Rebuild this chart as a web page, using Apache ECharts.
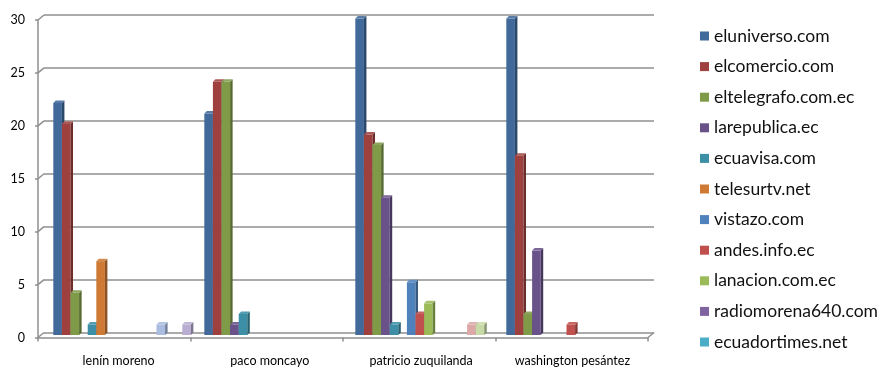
<!DOCTYPE html>
<html>
<head>
<meta charset="utf-8">
<script src="https://cdn.jsdelivr.net/npm/echarts@6/dist/echarts.min.js"></script>
<style>html,body{margin:0;padding:0;background:#fff}#c{width:895px;height:376px}</style>
</head>
<body>
<div id="c"></div>
<script>
// ---- data ----
const categories = ['lenín moreno', 'paco moncayo', 'patricio zuquilanda', 'washington pesántez'];
const yTicks = [0, 5, 10, 15, 20, 25, 30];
const eluniverso   = [22, 21, 30, 30];
const elcomercio   = [20, 24, 19, 17];
const eltelegrafo  = [4, 24, 18, 2];
const larepublica  = [0, 1, 13, 8];
const ecuavisa     = [1, 2, 1, 0];
const telesurtv    = [7, 0, 0, 0];
const vistazo      = [0, 0, 5, 0];
const andes        = [0, 0, 2, 1];
const lanacion     = [0, 0, 3, 0];
const radiomorena  = [0, 0, 0, 0];
const ecuadortimes = [0, 0, 0, 0];
const serie12      = [0, 0, 0, 0];
const serie13      = [1, 0, 0, 0];
const serie14      = [0, 0, 1, 0];
const serie15      = [0, 0, 1, 0];
const serie16      = [1, 0, 0, 0];

const seriesDefs = [
  ['eluniverso.com', eluniverso, '#416A9B'],
  ['elcomercio.com', elcomercio, '#9E413E'],
  ['eltelegrafo.com.ec', eltelegrafo, '#7F9B48'],
  ['larepublica.ec', larepublica, '#69518A'],
  ['ecuavisa.com', ecuavisa, '#3C8FA6'],
  ['telesurtv.net', telesurtv, '#CE7A35'],
  ['vistazo.com', vistazo, '#4F81BD'],
  ['andes.info.ec', andes, '#C0504D'],
  ['lanacion.com.ec', lanacion, '#9BBB59'],
  ['radiomorena640.com', radiomorena, '#8064A2'],
  ['ecuadortimes.net', ecuadortimes, '#4BACC6'],
  ['serie 12', serie12, '#F79646'],
  ['serie 13', serie13, '#AABCDF'],
  ['serie 14', serie14, '#DCA9A8'],
  ['serie 15', serie15, '#C8DBA6'],
  ['serie 16', serie16, '#B9AED1']
];
const legendNames = seriesDefs.slice(0, 11).map(d => d[0]);

// ---- styling helpers ----
const N = seriesDefs.length;
const GAP = 0.089;
const D = 2.5;
const DX = 6, DY = 5;
const lineCol = '#8f8f8f';
const font = 'Lato, "Open Sans", sans-serif';

function shade(hex, f) {
  const n = parseInt(hex.slice(1), 16);
  let r = (n >> 16) & 255, g = (n >> 8) & 255, b = n & 255;
  const m = c => Math.max(0, Math.min(255, Math.round(f < 1 ? c * f : c + (255 - c) * (f - 1))));
  return 'rgb(' + m(r) + ',' + m(g) + ',' + m(b) + ')';
}

function barRender(idx, color) {
  const side = shade(color, 0.68);
  const topc = shade(color, 1.12);
  return function (params, api) {
    const cat = api.value(0), v = api.value(1);
    if (!v) return;
    const top = api.coord([cat, v]);
    const base = api.coord([cat, 0]);
    const band = api.size([1, 0])[0];
    const gap = band * GAP;
    const bw = (band - gap) / N;
    const x = top[0] - band / 2 + gap / 2 + idx * bw;
    const y = top[1], yb = base[1];
    return {
      type: 'group',
      children: [
        { type: 'rect', shape: { x: x, y: y, width: bw, height: yb - y }, style: { fill: color } },
        { type: 'polygon', shape: { points: [[x + bw, y], [x + bw + D, y - D], [x + bw + D, yb - D], [x + bw, yb]] }, style: { fill: side } },
        { type: 'polygon', shape: { points: [[x, y], [x + D, y - D], [x + bw + D, y - D], [x + bw, y]] }, style: { fill: topc } }
      ]
    };
  };
}

const series = seriesDefs.map((d, i) => ({
  name: d[0],
  type: 'custom',
  xAxisIndex: 1,
  yAxisIndex: 1,
  itemStyle: { color: d[2] },
  renderItem: barRender(i, d[2]),
  data: d[1].map((v, c) => [c, v]),
  z: 5
}));

// wall slants (front axis to back wall)
series.push({
  name: 'frame',
  type: 'custom',
  xAxisIndex: 0,
  yAxisIndex: 0,
  silent: true,
  renderItem: function (params, api) {
    const v = api.value(0);
    const p = api.coord([0, v]);
    const band = api.size([1, 0])[0];
    const xl = p[0] - band / 2;
    const children = [
      { type: 'line', shape: { x1: xl, y1: p[1], x2: xl + DX, y2: p[1] - DY }, style: { stroke: lineCol, lineWidth: 1.5 } }
    ];
    if (v === 0) {
      const xr = api.coord([categories.length - 1, 0])[0] + band / 2;
      children.push({ type: 'line', shape: { x1: xr, y1: p[1], x2: xr + DX, y2: p[1] - DY }, style: { stroke: lineCol, lineWidth: 1.5 } });
    }
    return { type: 'group', children: children };
  },
  data: yTicks.map(v => [v]),
  encode: { y: 0 },
  z: 2
});

const option = {
  animation: false,
  backgroundColor: '#fff',
  legend: {
    data: legendNames,
    orient: 'vertical',
    left: 695,
    top: 22,
    padding: 5,
    itemGap: 12.6,
    itemWidth: 9,
    itemHeight: 9,
    icon: 'rect',
    textStyle: { fontSize: 17.5, lineHeight: 16, color: '#111', fontFamily: font },
    selectedMode: false
  },
  grid: [
    // front plane (axes)
    { left: 38, right: 247, top: 20, bottom: 38.5 },
    // bar plane (mid-depth)
    { left: 46.6, right: 244.4, top: 18.5, bottom: 41 },
    // back wall
    { left: 44, right: 241, top: 15, bottom: 43.5 },
    // label placement
    { left: 43, right: 247, top: 20, bottom: 38.5 }
  ],
  xAxis: [
    { gridIndex: 0, type: 'category', data: categories, boundaryGap: true,
      axisLine: { show: true, lineStyle: { color: lineCol, width: 1.5 } },
      axisTick: { show: true, length: 4, lineStyle: { color: lineCol, width: 1.5 } },
      axisLabel: { show: false }, splitLine: { show: false } },
    { gridIndex: 1, type: 'category', data: categories, show: false },
    { gridIndex: 2, type: 'category', data: categories, show: false },
    { gridIndex: 3, type: 'category', data: categories,
      axisLine: { show: false }, axisTick: { show: false },
      axisLabel: { show: true, margin: 16.5, fontSize: 12.5, color: '#000', fontFamily: font } }
  ],
  yAxis: [
    { gridIndex: 0, type: 'value', min: 0, max: 30, interval: 5,
      axisLine: { show: true, lineStyle: { color: lineCol, width: 1.5 } },
      axisTick: { show: true, length: 3, lineStyle: { color: lineCol, width: 1.5 } },
      axisLabel: { margin: 13, fontSize: 12.5, color: '#000', fontFamily: font },
      splitLine: { show: false } },
    { gridIndex: 1, type: 'value', min: 0, max: 30, interval: 5, show: false, splitLine: { show: false } },
    { gridIndex: 2, type: 'value', min: 0, max: 30, interval: 5,
      axisLine: { show: false }, axisTick: { show: false }, axisLabel: { show: false },
      splitLine: { show: true, lineStyle: { color: lineCol, width: 1.5 } } },
    { gridIndex: 3, type: 'value', min: 0, max: 30, interval: 5, show: false, splitLine: { show: false } }
  ],
  series: series
};

const chart = echarts.init(document.getElementById('c'), null, { renderer: 'canvas' });
chart.setOption(option);
</script>
</body>
</html>
